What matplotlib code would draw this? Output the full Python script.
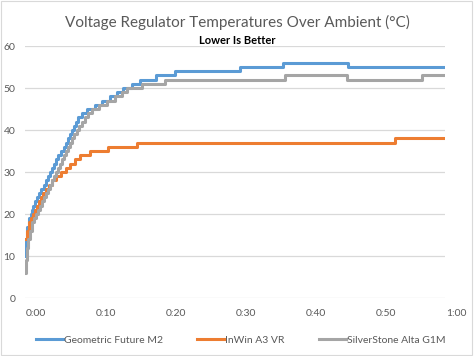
import matplotlib
matplotlib.use("Agg")
import matplotlib.pyplot as plt
from matplotlib.transforms import ScaledTranslation
from matplotlib.patches import Rectangle

plt.rcParams['font.family'] = ['Lato', 'DejaVu Sans']

# time (minutes) at which each reading begins, and the reading (°C over ambient)
geo_t = [0.0, 0.14, 0.29, 0.57, 0.86, 1.0, 1.14, 1.43, 1.71, 2.0, 2.29, 2.71, 3.0, 3.29, 3.57,
         3.86, 4.14, 4.43, 4.71, 5.14, 5.57, 5.86, 6.14, 6.43, 6.71, 7.0, 7.29, 7.57, 8.14,
         8.86, 10.0, 11.0, 12.14, 13.14, 14.0, 15.29, 16.43, 18.7, 21.43, 30.71, 36.86, 46.14, 60.0]
geo_v = [10, 14, 17, 19, 20, 21, 22, 23, 24, 25, 26, 27, 28, 29, 30,
         31, 32, 33, 34, 35, 36, 37, 38, 39, 40, 41, 42, 43, 44,
         45, 46, 47, 48, 49, 50, 51, 52, 53, 54, 55, 56, 55, 55]

inwin_t = [0.0, 0.29, 0.57, 0.86, 1.14, 1.43, 1.71, 2.0, 2.29, 2.57, 3.0, 3.43, 3.86, 4.43,
           5.14, 5.86, 6.43, 7.14, 7.86, 9.29, 11.86, 16.0, 52.86, 60.0]
inwin_v = [14, 16, 18, 19, 20, 21, 22, 23, 24, 25, 26, 27, 28, 29,
           30, 31, 32, 33, 34, 35, 36, 37, 38, 38]

silver_t = [0.0, 0.14, 0.29, 0.43, 0.71, 1.0, 1.29, 1.57, 1.86, 2.14, 2.43, 2.71, 3.0, 3.29,
            3.57, 3.86, 4.14, 4.43, 4.71, 5.0, 5.29, 5.57, 5.86, 6.14, 6.43, 6.71, 7.0, 7.43,
            7.71, 8.14, 8.57, 9.0, 9.57, 10.57, 11.71, 12.86, 13.86, 14.57, 16.71, 20.0,
            37.2, 46.0, 56.7, 60.0]
silver_v = [6, 9, 12, 14, 16, 18, 19, 20, 21, 22, 23, 24, 25, 26,
            27, 28, 29, 30, 31, 32, 33, 34, 35, 36, 37, 38, 39, 40,
            41, 42, 43, 44, 45, 46, 47, 48, 49, 50, 51, 52,
            53, 52, 53, 53]

series_names = ["Geometric Future M2", "InWin A3 VR", "SilverStone Alta G1M"]
x_ticks = [0, 10, 20, 30, 40, 50, 60]
x_tick_labels = ["0:00", "0:10", "0:20", "0:30", "0:40", "0:50", "1:00"]
y_ticks = [0, 10, 20, 30, 40, 50, 60]

colors = ["#5B9BD5", "#ED7D31", "#A5A5A5"]
text_grey = "#595959"

fig = plt.figure(figsize=(4.74, 3.56), dpi=100)
ax = fig.add_axes([25/474, 1-298/356, 420/474, 252/356])

for (t, v), name, c in zip([(geo_t, geo_v), (inwin_t, inwin_v), (silver_t, silver_v)],
                           series_names, colors):
    ax.step(t, v, where='post', color=c, lw=2.2, label=name, solid_joinstyle='round')

ax.set_xlim(0, 60)
ax.set_ylim(0, 60)
ax.set_yticks(y_ticks)
ax.set_yticklabels([str(y) for y in y_ticks])
ax.set_xticks(x_ticks)
ax.set_xticklabels(x_tick_labels)
ax.grid(axis='y', color='#D9D9D9', lw=0.9)
ax.set_axisbelow(True)
for s in ax.spines.values():
    s.set_visible(False)
ax.tick_params(axis='both', length=0, colors=text_grey, labelsize=7.5)
ax.tick_params(axis='y', pad=7)
ax.tick_params(axis='x', pad=8)
off = ScaledTranslation(11/100, 0, fig.dpi_scale_trans)
for lab in ax.get_xticklabels():
    lab.set_transform(lab.get_transform() + off)

fig.text(0.5, 1-22/356, "Voltage Regulator Temperatures Over Ambient (°C)", ha='center', va='center',
         fontsize=11, color=text_grey)
fig.text(0.5, 1-40/356, "Lower Is Better", ha='center', va='center',
         fontsize=8, fontweight='bold', color='black')

leg = fig.legend(loc='center', bbox_to_anchor=(0.508, 1-340/356), ncol=3, frameon=False,
                 fontsize=7.5, handlelength=2.6, handletextpad=0.1, columnspacing=3.3,
                 labelcolor=text_grey)

fig.patches.append(Rectangle((0.002, 0.003), 0.994, 0.994, transform=fig.transFigure,
                             fill=False, edgecolor='#D9D9D9', lw=0.8))

fig.savefig("out.png", dpi=100)
